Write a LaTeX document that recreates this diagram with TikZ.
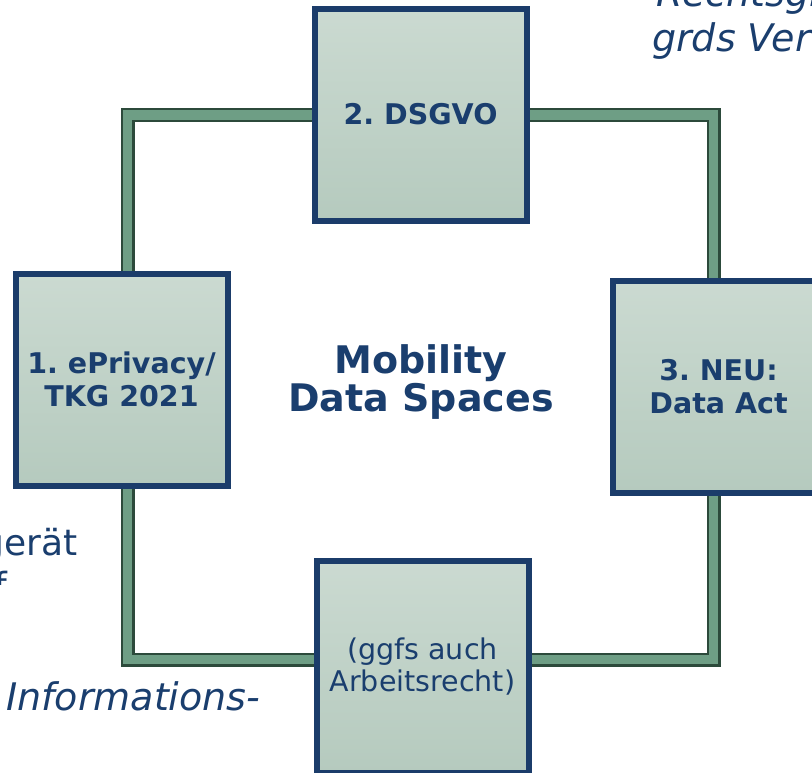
\documentclass[tikz,border=0pt]{standalone}
\usepackage{fontspec}
\setmainfont{DejaVu Sans}
\frenchspacing
\definecolor{navy}{HTML}{1A3E6E}
\definecolor{boxline}{HTML}{1B3C6A}
\definecolor{boxtop}{HTML}{CBDAD1}
\definecolor{boxbot}{HTML}{B5CABE}
\definecolor{framegreen}{HTML}{6E9E85}
\definecolor{framedark}{HTML}{2C4A3B}
\begin{document}
\begin{tikzpicture}[x=1pt,y=-1pt,
  box/.style={draw=boxline, line width=6pt, top color=boxtop, bottom color=boxbot,
    minimum width=212pt, minimum height=212pt, inner sep=0pt, align=center, text=navy},
  boxbold/.style={box, font=\fontsize{28.5}{32.5}\selectfont\bfseries},
  boxreg/.style={box, font=\fontsize{28.5}{32.5}\selectfont},
  sidetext/.style={text=navy, inner sep=0pt},
  frameouter/.style={framedark, line width=14pt},
  frameinner/.style={framegreen, line width=9.5pt}]
\useasboundingbox (0,0) rectangle (812,772);
\fill[white] (0,0) rectangle (812,772);
% frame ring
\coordinate (tl) at (127.5,115);
\coordinate (br) at (713.5,659.5);
\draw[frameouter] (tl) rectangle (br);
\draw[frameinner] (tl) rectangle (br);
% boxes
\node[boxbold] (ds) at (420.5,114.5) {2. DSGVO};
\node[boxbold] (ep) at (121.5,379.5) {1. ePrivacy/\\TKG 2021};
\node[boxbold] (da) at (718.5,386.5) {3. NEU:\\Data Act};
\node[boxreg] (bt) at (422.5,666.5) {(ggfs auch\\Arbeitsrecht)};
% centre title
\node[sidetext, align=center, font=\fontsize{38}{38}\selectfont\bfseries] (mds) at (421,382) {Mobility\\Data Spaces};
% side texts
\node[sidetext, anchor=base west, font=\fontsize{38}{45}\selectfont\itshape] (rg1) at (656,6) {Rechtsgr};
\node[sidetext, anchor=base west, font=\fontsize{38}{45}\selectfont\itshape] (rg2) at (652,51) {grds Ver};
\node[sidetext, anchor=base east, font=\fontsize{36}{43}\selectfont] (eg) at (78,555) {Endgerät};
\begin{scope}
\clip (0,565) rectangle (20,584);
\node[sidetext, anchor=base east, font=\fontsize{36}{43}\selectfont] (ff) at (7,598) {f};
\end{scope}
\node[sidetext, anchor=base west, font=\fontsize{38}{40}\selectfont\itshape] (inf) at (6,710) {Informations-};
\end{tikzpicture}
\end{document}
